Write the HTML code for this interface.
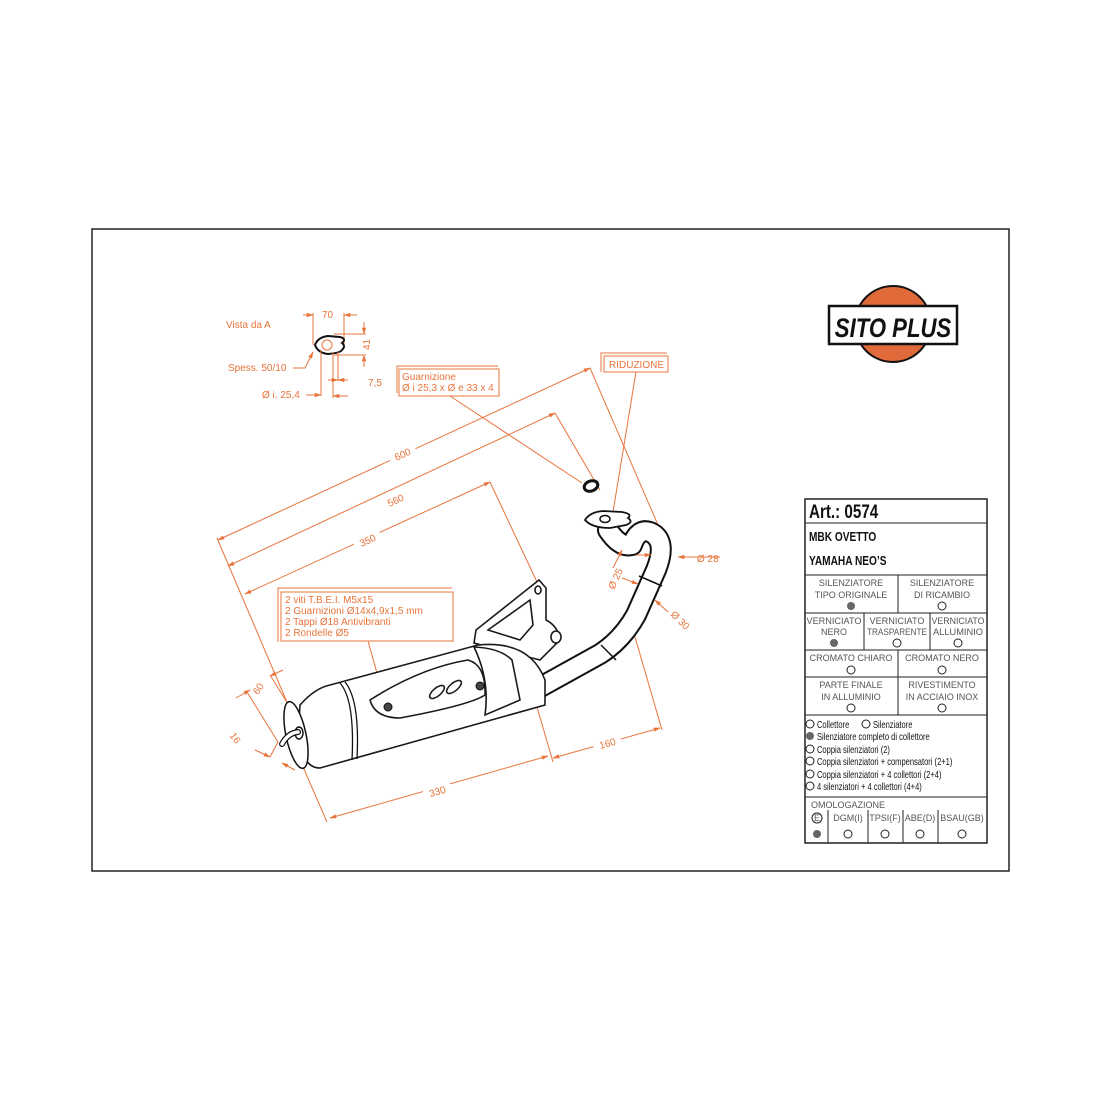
<!DOCTYPE html>
<html><head><meta charset="utf-8"><style>
html,body{margin:0;padding:0;background:#fff;}
svg{display:block;}
.o{stroke:#e8743b;fill:none;stroke-width:1;}
.ot{fill:#e8743b;font-family:"Liberation Sans",sans-serif;font-size:10px;}
.k{stroke:#1a1a1a;fill:#fff;stroke-width:1.6;}
.t{font-family:"Liberation Sans",sans-serif;fill:#555;font-size:9px;}
.tb{font-family:"Liberation Sans",sans-serif;fill:#111;font-weight:bold;}
.tl{font-family:"Liberation Sans",sans-serif;fill:#111;font-size:10.5px;}
</style></head><body>
<svg width="1100" height="1100" viewBox="0 0 1100 1100" xmlns="http://www.w3.org/2000/svg">
<defs><marker id="a" viewBox="0 0 10 10" refX="9" refY="5" markerWidth="7" markerHeight="7" orient="auto-start-reverse"><path d="M0,2 L10,5 L0,8 z" fill="#e8743b"/></marker></defs>
<rect x="92" y="229" width="917" height="642" fill="none" stroke="#222" stroke-width="1.5"/>

<!-- logo -->
<circle cx="893" cy="324" r="38" fill="#e06a3a" stroke="#111" stroke-width="2"/>
<rect x="829" y="306" width="128" height="38" fill="#fff" stroke="#111" stroke-width="2.5"/>
<text x="893" y="337" text-anchor="middle" font-family="Liberation Sans,sans-serif" font-weight="bold" font-style="italic" font-size="27" fill="#111" transform="translate(893 0) scale(0.82 1) translate(-893 0)">SITO PLUS</text>

<!-- top-left detail -->
<text x="226" y="328" class="ot">Vista da A</text>
<text x="322" y="318" class="ot">70</text>
<line x1="303" y1="315" x2="313" y2="315" class="o" marker-end="url(#a)"/>
<line x1="313" y1="313" x2="313" y2="345" class="o"/>
<line x1="357" y1="315" x2="344" y2="315" class="o" marker-end="url(#a)"/>
<line x1="344" y1="313" x2="344" y2="345" class="o"/>
<line x1="334" y1="334" x2="366" y2="334" class="o"/>
<line x1="334" y1="355" x2="366" y2="355" class="o"/>
<line x1="364" y1="322" x2="364" y2="334" class="o" marker-end="url(#a)"/>
<line x1="364" y1="367" x2="364" y2="355" class="o" marker-end="url(#a)"/>
<text x="0" y="0" class="ot" transform="translate(370 350) rotate(-90)">41</text>
<path d="M315,345 Q318,337 328,336 L340,337 Q347,339 342,343 Q346,346 342,350 Q340,353 328,354 Q318,353 315,345z" fill="#fff" stroke="#111" stroke-width="2"/>
<circle cx="327" cy="345" r="5" fill="none" stroke="#e8743b"/>
<text x="228" y="371" class="ot">Spess. 50/10</text>
<path d="M293,368 L305,368 L313,352" class="o" marker-end="url(#a)"/>
<line x1="333" y1="352" x2="333" y2="398" class="o"/>
<line x1="338" y1="352" x2="338" y2="381" class="o"/>
<line x1="328" y1="380" x2="338" y2="380" class="o" marker-end="url(#a)"/>
<line x1="348" y1="380" x2="338" y2="380" class="o" marker-end="url(#a)"/>
<text x="368" y="386" class="ot">7,5</text>
<text x="262" y="398" class="ot">Ø i. 25,4</text>
<path d="M306,395 L321,395" class="o" marker-end="url(#a)"/>
<line x1="321" y1="350" x2="321" y2="396" class="o"/>
<line x1="348" y1="396" x2="333" y2="396" class="o" marker-end="url(#a)"/>

<!-- guarnizione box -->
<polyline points="397,393 397,366 498,366" class="o"/>
<rect x="399" y="369" width="100" height="27" class="o"/>
<text x="402" y="380" class="ot">Guarnizione</text>
<text x="402" y="391" class="ot">Ø i 25,3 x Ø e 33 x 4</text>
<line x1="450" y1="396" x2="582" y2="483" class="o"/>
<!-- riduzione -->
<polyline points="601,372 601,353 667,353" class="o"/>
<rect x="604" y="356" width="64" height="16" class="o"/>
<text x="609" y="368" class="ot">RIDUZIONE</text>
<line x1="636" y1="372" x2="612" y2="518" class="o"/>

<!-- dimension lines -->
<line x1="218" y1="540" x2="590" y2="368" class="o" marker-start="url(#a)" marker-end="url(#a)"/>
<rect x="388" y="446" width="28" height="14" fill="#fff" transform="rotate(-25 402 453)"/>
<text x="402" y="458" class="ot" text-anchor="middle" transform="rotate(-25 402 453)">600</text>
<line x1="590" y1="368" x2="668" y2="548" class="o"/>
<line x1="217" y1="538" x2="292" y2="714" class="o"/>
<line x1="228" y1="566" x2="555" y2="413" class="o" marker-start="url(#a)" marker-end="url(#a)"/>
<rect x="381" y="492" width="28" height="14" fill="#fff" transform="rotate(-25 395 499)"/>
<text x="395" y="504" class="ot" text-anchor="middle" transform="rotate(-25 395 499)">560</text>
<line x1="555" y1="413" x2="600" y2="490" class="o"/>
<line x1="245" y1="594" x2="490" y2="482" class="o" marker-start="url(#a)" marker-end="url(#a)"/>
<rect x="353" y="532" width="28" height="14" fill="#fff" transform="rotate(-25 367 539)"/>
<text x="367" y="544" class="ot" text-anchor="middle" transform="rotate(-25 367 539)">350</text>
<line x1="490" y1="482" x2="537" y2="582" class="o"/>
<line x1="330" y1="818" x2="548" y2="756" class="o" marker-start="url(#a)" marker-end="url(#a)"/>
<rect x="423" y="783" width="28" height="14" fill="#fff" transform="rotate(-16 437 790)"/>
<text x="437" y="795" class="ot" text-anchor="middle" transform="rotate(-16 437 790)">330</text>
<line x1="300" y1="760" x2="327" y2="822" class="o"/>
<line x1="537" y1="707" x2="553" y2="762" class="o"/>
<line x1="553" y1="758" x2="660" y2="728" class="o" marker-start="url(#a)" marker-end="url(#a)"/>
<rect x="593" y="735" width="28" height="14" fill="#fff" transform="rotate(-16 607 742)"/>
<text x="607" y="747" class="ot" text-anchor="middle" transform="rotate(-16 607 742)">160</text>
<line x1="635" y1="637" x2="662" y2="730" class="o"/>
<line x1="270" y1="675" x2="298" y2="720" class="o"/>
<line x1="247" y1="692" x2="278" y2="742" class="o"/>
<line x1="236" y1="698" x2="250" y2="690" class="o" marker-end="url(#a)"/>
<line x1="283" y1="670" x2="270" y2="676" class="o" marker-end="url(#a)"/>
<text x="252" y="692" class="ot" transform="rotate(-55 258 688)">60</text>
<line x1="278" y1="742" x2="270" y2="757" class="o"/>
<line x1="255" y1="750" x2="270" y2="757" class="o" marker-end="url(#a)"/>
<line x1="295" y1="770" x2="282" y2="763" class="o" marker-end="url(#a)"/>
<text x="230" y="742" class="ot" transform="rotate(55 236 738)">16</text>

<!-- parts box -->
<polyline points="278,642 278,588 452,588" class="o"/>
<rect x="281" y="592" width="172" height="49" class="o"/>
<text x="285" y="603" class="ot">2 viti T.B.E.I. M5x15</text>
<text x="285" y="614" class="ot">2 Guarnizioni Ø14x4,9x1,5 mm</text>
<text x="285" y="625" class="ot">2 Tappi Ø18 Antivibranti</text>
<text x="285" y="636" class="ot">2 Rondelle Ø5</text>
<line x1="368" y1="641" x2="386" y2="705" class="o"/>

<!-- bracket -->
<path d="M474,643 L476,630 L539,580 L546,588 L546,620 Q558,626 560,640 L540,660 L500,650 L474,643z" class="k"/>
<path d="M488,630 L530,600 L533,625 L520,640z" class="k" stroke-width="1.2"/>
<ellipse cx="538" cy="590" rx="3" ry="4" class="k" stroke-width="1.2"/>
<ellipse cx="556" cy="637" rx="5" ry="6" class="k"/>

<!-- pipe -->
<path d="M535,690 L600,654 Q622,640 636,615 L656,570 Q668,540 650,532 Q638,528 632,545 Q620,548 608,530" fill="none" stroke="#111" stroke-width="22" stroke-linecap="round" stroke-linejoin="round"/>
<path d="M535,690 L600,654 Q622,640 636,615 L656,570 Q668,540 650,532 Q638,528 632,545 Q620,548 608,530" fill="none" stroke="#fff" stroke-width="18" stroke-linecap="round" stroke-linejoin="round"/>
<line x1="601" y1="645" x2="616" y2="660" stroke="#111" stroke-width="1.5"/>
<line x1="639" y1="576" x2="662" y2="586" stroke="#111" stroke-width="1.5"/>
<!-- flange -->
<path d="M585,520 Q590,512 603,511 L622,512 Q633,514 628,518 Q634,522 626,525 L610,528 Q592,528 585,520z" fill="#fff" stroke="#111" stroke-width="1.8"/>
<ellipse cx="605" cy="519" rx="5" ry="3.5" fill="none" stroke="#111" stroke-width="1.5"/>
<!-- gasket ring -->
<ellipse cx="591" cy="486" rx="7" ry="5" fill="none" stroke="#111" stroke-width="3" transform="rotate(-20 591 486)"/>

<!-- muffler body -->
<path d="M300,705 Q315,688 330,685 L478,645 Q530,640 545,680 L545,705 L320,768 Q295,768 300,705z" class="k" stroke-width="1.8"/>
<path d="M474,647 Q500,648 512,660 L520,700 L485,715 Q490,680 474,647z" class="k" stroke-width="1.4"/>
<path d="M340,683 Q355,700 352,760" fill="none" stroke="#111" stroke-width="1.3"/>
<path d="M345,682 Q360,700 357,759" fill="none" stroke="#111" stroke-width="1.3"/>
<path d="M370,700 Q420,668 468,660 Q486,665 485,695 Q470,705 400,718 Q375,718 370,700z" class="k" stroke-width="1.5"/>
<ellipse cx="437" cy="692" rx="9" ry="4" class="k" transform="rotate(-40 437 692)"/>
<ellipse cx="454" cy="687" rx="9" ry="4" class="k" transform="rotate(-40 454 687)"/>
<circle cx="480" cy="686" r="4" fill="#444" stroke="#111"/>
<circle cx="388" cy="707" r="4" fill="#444" stroke="#111"/>
<ellipse cx="296" cy="735" rx="10" ry="34" fill="#fff" stroke="#111" stroke-width="1.5" transform="rotate(-12 296 735)"/>
<ellipse cx="299" cy="733" rx="4" ry="6" fill="#fff" stroke="#111" stroke-width="1.5"/>
<path d="M298,732 Q288,733 282,744" fill="none" stroke="#111" stroke-width="6" stroke-linecap="round"/>
<path d="M298,732 Q288,733 282,744" fill="none" stroke="#fff" stroke-width="3.5" stroke-linecap="round"/>

<!-- diameter labels -->
<line x1="720" y1="557" x2="678" y2="557" class="o" marker-end="url(#a)"/>
<line x1="636" y1="555" x2="651" y2="555" class="o" marker-end="url(#a)"/>
<text x="697" y="562" class="ot">Ø 28</text>
<line x1="613" y1="568" x2="622" y2="550" class="o" marker-end="url(#a)"/>
<text x="0" y="0" class="ot" transform="translate(614 590) rotate(-65)">Ø 25</text>
<line x1="622" y1="578" x2="638" y2="584" class="o" marker-end="url(#a)"/>
<line x1="668" y1="612" x2="655" y2="600" class="o" marker-end="url(#a)"/>
<text x="0" y="0" class="ot" transform="translate(670 615) rotate(45)">Ø 30</text>

<!-- table -->
<g stroke="#222" fill="none" stroke-width="1">
<rect x="805" y="499" width="182" height="344" stroke-width="1.5"/>
<line x1="805" y1="523" x2="987" y2="523"/>
<line x1="805" y1="575" x2="987" y2="575"/>
<line x1="805" y1="613" x2="987" y2="613"/>
<line x1="805" y1="650" x2="987" y2="650"/>
<line x1="805" y1="677" x2="987" y2="677"/>
<line x1="805" y1="715" x2="987" y2="715"/>
<line x1="805" y1="797" x2="987" y2="797"/>
<line x1="898" y1="575" x2="898" y2="613"/>
<line x1="864" y1="613" x2="864" y2="650"/>
<line x1="930" y1="613" x2="930" y2="650"/>
<line x1="898" y1="650" x2="898" y2="715"/>
<line x1="828" y1="810" x2="828" y2="843"/>
<line x1="868" y1="810" x2="868" y2="843"/>
<line x1="903" y1="810" x2="903" y2="843"/>
<line x1="938" y1="810" x2="938" y2="843"/>
</g>
<text x="809" y="518" class="tb" font-size="19" transform="translate(809 0) scale(0.8 1) translate(-809 0)">Art.: 0574</text>
<text x="809" y="541" class="tb" font-size="13" transform="translate(809 0) scale(0.78 1) translate(-809 0)">MBK OVETTO</text>
<text x="809" y="565" class="tb" font-size="13" transform="translate(809 0) scale(0.78 1) translate(-809 0)">YAMAHA NEO’S</text>
<g class="t" text-anchor="middle">
<text x="851" y="586">SILENZIATORE</text><text x="851" y="598">TIPO ORIGINALE</text>
<text x="942" y="586">SILENZIATORE</text><text x="942" y="598">DI RICAMBIO</text>
<text x="834" y="624" textLength="55" lengthAdjust="spacingAndGlyphs">VERNICIATO</text><text x="834" y="635">NERO</text>
<text x="897" y="624" textLength="55" lengthAdjust="spacingAndGlyphs">VERNICIATO</text><text x="897" y="635" textLength="60" lengthAdjust="spacingAndGlyphs">TRASPARENTE</text>
<text x="958" y="624" textLength="53" lengthAdjust="spacingAndGlyphs">VERNICIATO</text><text x="958" y="635" textLength="50" lengthAdjust="spacingAndGlyphs">ALLUMINIO</text>
<text x="851" y="661">CROMATO CHIARO</text>
<text x="942" y="661">CROMATO NERO</text>
<text x="851" y="688">PARTE FINALE</text><text x="851" y="700">IN ALLUMINIO</text>
<text x="942" y="688">RIVESTIMENTO</text><text x="942" y="700">IN ACCIAIO INOX</text>
<text x="848" y="808">OMOLOGAZIONE</text>
<text x="848" y="821">DGM(I)</text>
<text x="885" y="821">TPSI(F)</text>
<text x="920" y="821">ABE(D)</text>
<text x="962" y="821">BSAU(GB)</text>
</g>
<g fill="#fff" stroke="#222" stroke-width="1">
<circle cx="942" cy="606" r="4"/>
<circle cx="897" cy="643" r="4"/><circle cx="958" cy="643" r="4"/>
<circle cx="851" cy="670" r="4"/><circle cx="942" cy="670" r="4"/>
<circle cx="851" cy="708" r="4"/><circle cx="942" cy="708" r="4"/>
<circle cx="810" cy="724" r="4"/><circle cx="866" cy="724" r="4"/>
<circle cx="810" cy="749" r="4"/><circle cx="810" cy="761" r="4"/>
<circle cx="810" cy="774" r="4"/><circle cx="810" cy="786" r="4"/>
<circle cx="817" cy="818" r="5"/>
<circle cx="848" cy="834" r="4"/><circle cx="885" cy="834" r="4"/><circle cx="920" cy="834" r="4"/><circle cx="962" cy="834" r="4"/>
</g>
<g fill="#666"><circle cx="851" cy="606" r="4"/><circle cx="834" cy="643" r="4"/><circle cx="810" cy="736" r="4"/><circle cx="817" cy="834" r="4"/></g>
<text x="817" y="821" class="t" text-anchor="middle" font-size="8">E</text>
<g class="tl">
<text x="817" y="728" transform="translate(817 0) scale(0.72 1) translate(-817 0)">Collettore</text>
<text x="873" y="728" transform="translate(873 0) scale(0.72 1) translate(-873 0)">Silenziatore</text>
<text x="817" y="740" transform="translate(817 0) scale(0.72 1) translate(-817 0)">Silenziatore completo di collettore</text>
<text x="817" y="753" transform="translate(817 0) scale(0.72 1) translate(-817 0)">Coppia silenziatori (2)</text>
<text x="817" y="765" transform="translate(817 0) scale(0.72 1) translate(-817 0)">Coppia silenziatori + compensatori (2+1)</text>
<text x="817" y="778" transform="translate(817 0) scale(0.72 1) translate(-817 0)">Coppia silenziatori + 4 collettori (2+4)</text>
<text x="817" y="790" transform="translate(817 0) scale(0.72 1) translate(-817 0)">4 silenziatori + 4 collettori (4+4)</text>
</g>
</svg>
</body></html>
